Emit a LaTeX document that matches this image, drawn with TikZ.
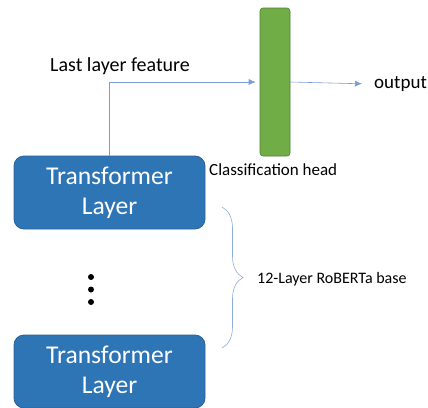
\documentclass[tikz,border=0pt]{standalone}
\usepackage{fontspec}
\setmainfont{Carlito}
\usetikzlibrary{arrows.meta, decorations.pathreplacing}

\definecolor{layerblue}{HTML}{2E75B6}
\definecolor{layeredge}{HTML}{2F5F95}
\definecolor{headgreen}{HTML}{70AD47}
\definecolor{headedge}{HTML}{507E32}
\definecolor{arrowblue}{HTML}{4472C4}
\definecolor{bracecol}{HTML}{8FAADC}

\tikzset{
	layer/.style={draw=layeredge, fill=layerblue, rounded corners=10pt, line width=0.8pt,
		minimum width=191pt, minimum height=73pt, inner sep=0pt, align=center,
		text=white, font=\fontsize{25.6}{30}\selectfont},
	head/.style={draw=headedge, fill=headgreen, rounded corners=3pt, line width=0.6pt,
		minimum width=30pt, minimum height=148pt, inner sep=0pt},
	feat/.style={draw=arrowblue!70, line width=0.6pt, -{Latex[length=7pt,width=6pt]}},
	lbl/.style={inner sep=0pt, font=\fontsize{20}{22}\selectfont},
	small/.style={inner sep=0pt, font=\fontsize{17}{19}\selectfont}
}

\begin{document}
\begin{tikzpicture}[x=1pt, y=-1pt]

	\useasboundingbox (0,0) rectangle (428,407);

	% encoder stack
	\node[layer] (top) at (109.5,192.5) {Transformer\\Layer};
	\node[layer] (bottom) at (109.5,371.5) {Transformer\\Layer};

	\fill (91,277) circle(3);
	\fill (91,289.5) circle(3);
	\fill (91,302) circle(3);

	% classifier
	\node[head] (head) at (275,82) {};
	\node[small, anchor=west] (headlbl) at (209,170) {Classification head};

	\node[lbl, anchor=west] (featlbl) at (50,66) {Last layer feature};
	\node[lbl, anchor=west, inner sep=4pt, font=\fontsize{19}{21}\selectfont] (output)
		at (370,84) {output};

	\draw[feat, shorten >=4pt] (top.north) |- (head.west);
	\draw[feat, shorten >=8pt] (head.east) -- (output.west);

	% brace over the layers
	\draw[bracecol, line width=0.6pt, decorate, decoration={brace, amplitude=21pt}]
		(222,207) -- (222,348);
	\node[anchor=west, inner sep=0pt, font=\fontsize{16}{18}\selectfont] (model)
		at (257,279) {12-Layer RoBERTa base};

\end{tikzpicture}
\end{document}
